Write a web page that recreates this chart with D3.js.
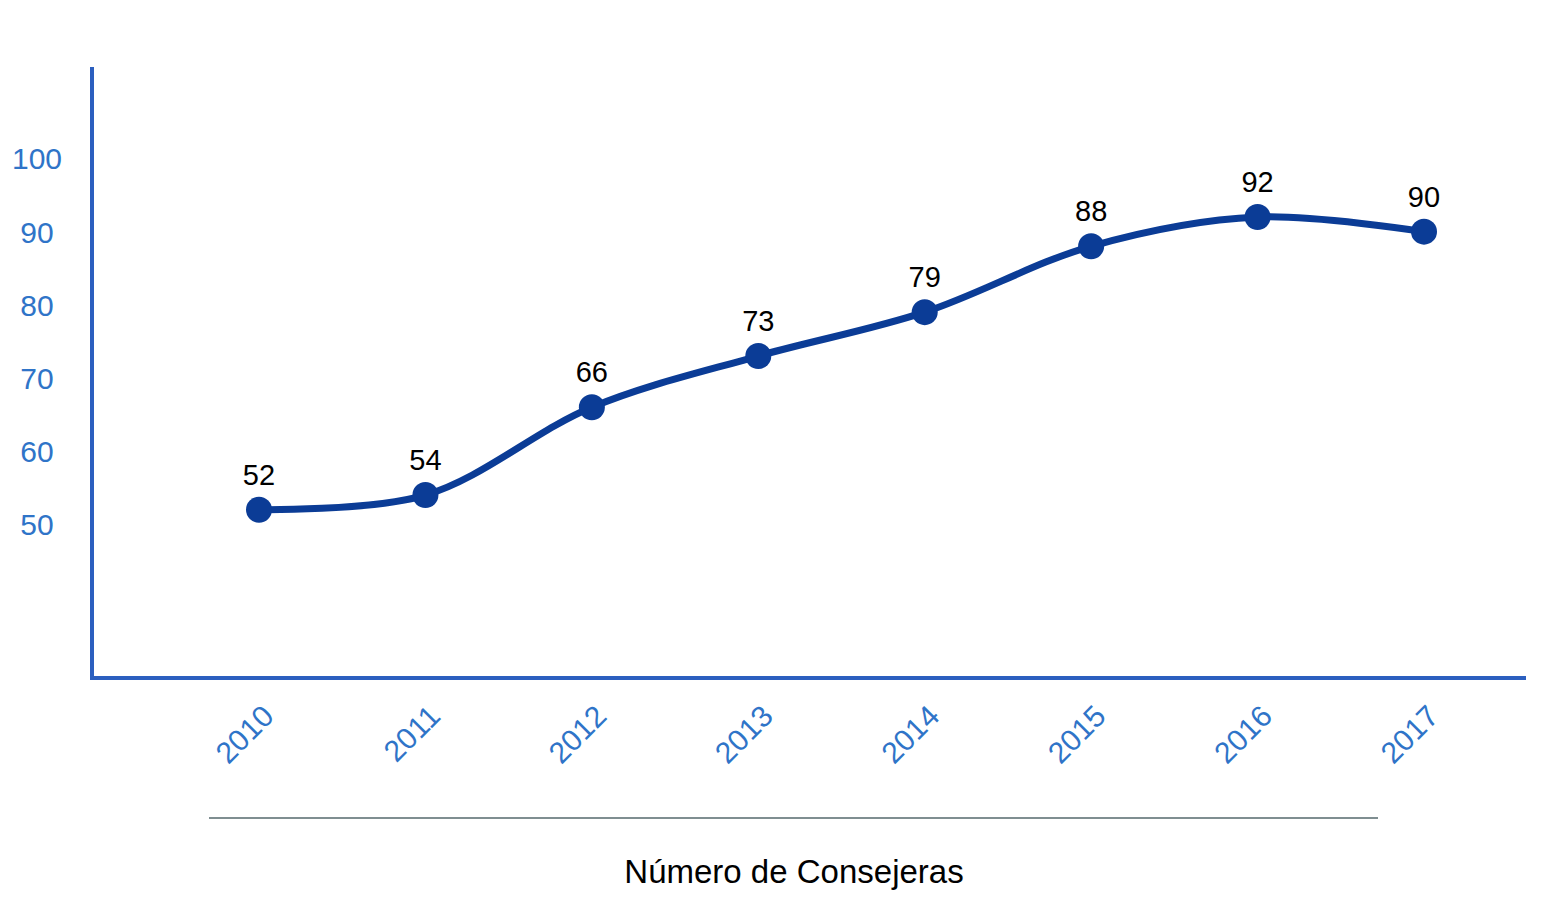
<!DOCTYPE html>
<html><head><meta charset="utf-8">
<script src="https://cdn.jsdelivr.net/npm/d3@7"></script>
<style>html,body{margin:0;padding:0;background:#fff;}</style>
</head><body>
<svg id="chart" width="1550" height="902"></svg>
<script>
const years = ["2010","2011","2012","2013","2014","2015","2016","2017"];
const values = [52, 54, 66, 73, 79, 88, 92, 90];
const yTicks = [50, 60, 70, 80, 90, 100];
const title = "Número de Consejeras";

const svg = d3.select("#chart");
const font = "'Liberation Sans', Arial, sans-serif";
const axisColor = "#2b5fbf";
const tickColor = "#2f74c8";
const lineColor = "#0b3c96";

const x = d3.scalePoint().domain(years).range([259, 1424]);
const y = d3.scaleLinear().domain([29, 112.5]).range([678, 67]);

// axes lines
svg.append("line").attr("x1", 92).attr("x2", 92).attr("y1", y(112.5)).attr("y2", y(29) + 2)
  .attr("stroke", axisColor).attr("stroke-width", 4);
svg.append("line").attr("x1", 90).attr("x2", 1526).attr("y1", y(29)).attr("y2", y(29))
  .attr("stroke", axisColor).attr("stroke-width", 4);

// y tick labels
const yAxis = d3.axisLeft(y).tickValues(yTicks).tickSize(0).tickPadding(0);
const gy = svg.append("g").attr("transform", "translate(37,0)").call(yAxis);
gy.select(".domain").remove();
gy.selectAll("text").attr("text-anchor", "middle").attr("fill", tickColor)
  .style("font-family", font).style("font-size", "30px").attr("dy", "0.35em");

// x tick labels
const xAxis = d3.axisBottom(x).tickSize(0).tickPadding(0);
const gx = svg.append("g").attr("transform", `translate(0,${y(29)})`).call(xAxis);
gx.select(".domain").remove();
gx.selectAll("text")
  .attr("text-anchor", "end").attr("fill", tickColor)
  .style("font-family", font).style("font-size", "30px")
  .attr("dy", null).attr("y", null)
  .attr("transform", "translate(16,40) rotate(-45)");

// line
const line = d3.line().x((d, i) => x(years[i])).y(d => y(d)).curve(d3.curveCatmullRom.alpha(0.5));
svg.append("path").datum(values).attr("d", line)
  .attr("fill", "none").attr("stroke", lineColor).attr("stroke-width", 7);

svg.selectAll("circle.pt").data(values).enter().append("circle")
  .attr("class", "pt").attr("cx", (d, i) => x(years[i])).attr("cy", d => y(d))
  .attr("r", 13).attr("fill", lineColor);

svg.selectAll("text.val").data(values).enter().append("text")
  .attr("class", "val").attr("x", (d, i) => x(years[i])).attr("y", d => y(d) - 25)
  .attr("text-anchor", "middle").attr("fill", "#000")
  .style("font-family", font).style("font-size", "29px").text(d => d);

// separator and title
svg.append("line").attr("x1", 209).attr("x2", 1378).attr("y1", 818).attr("y2", 818)
  .attr("stroke", "#7f8e91").attr("stroke-width", 2);
svg.append("text").attr("x", 794).attr("y", 883).attr("text-anchor", "middle")
  .attr("fill", "#000").style("font-family", font).style("font-size", "33px").text(title);
</script>
</body></html>
